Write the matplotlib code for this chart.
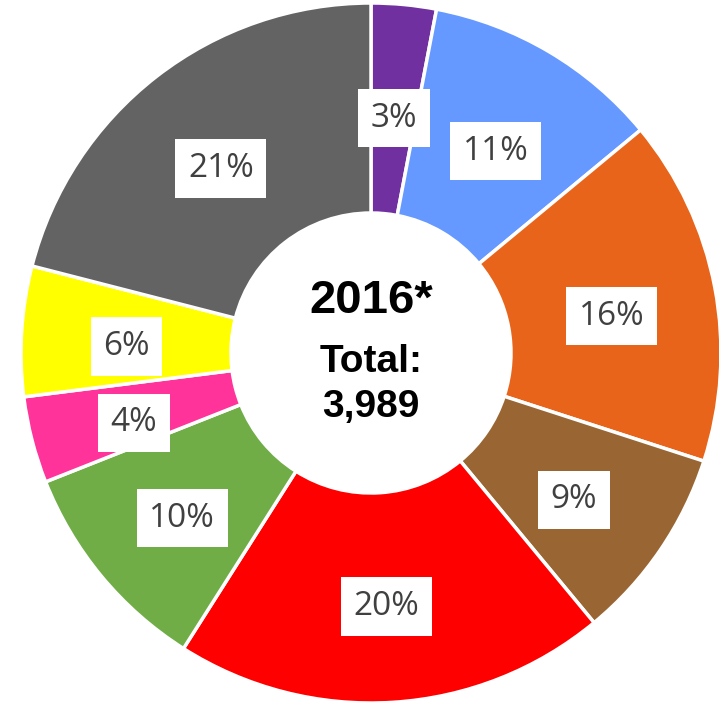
import matplotlib.pyplot as plt

# share of total, clockwise from 12 o'clock
pct = [3, 11, 16, 9, 20, 10, 4, 6, 21]
colors = ['#7030A0', '#6699FF', '#E8641A', '#996633', '#FF0000',
          '#70AD47', '#FF3399', '#FFFF00', '#636363']
year = '2016*'
total = 3989

fig = plt.figure(figsize=(7.19, 7.07), dpi=100)
ax = fig.add_axes([0, 0, 1, 1])

cx, cy, r = 371, 354, 350
wedges, texts = ax.pie(
    pct, colors=colors, startangle=90, counterclock=False,
    center=(cx, cy), radius=r, frame=True,
    labels=[f'{p}%' for p in pct], labeldistance=0.70,
    wedgeprops=dict(width=r * 0.6, edgecolor='white', linewidth=2.5),
    textprops=dict(fontsize=24, color='#404040', family='Open Sans',
                   ha='center', va='center'),
)
for t in texts:
    x, y = t.get_position()
    t.set_position((x, y - 9))
    t.set_bbox(dict(facecolor='white', edgecolor='none', boxstyle='square,pad=0.38'))
ax.set_xlim(0, 719)
ax.set_ylim(0, 707)
ax.set_aspect('equal')
ax.axis('off')

ax.text(cx, cy + 52, year, ha='center', va='center', fontsize=34,
        fontweight='bold', family='Liberation Sans')
ax.text(cx, cy - 9, 'Total:', ha='center', va='center', fontsize=28,
        fontweight='bold', family='Liberation Sans')
ax.text(cx, cy - 54, f'{total:,}', ha='center', va='center', fontsize=28,
        fontweight='bold', family='Liberation Sans')

fig.savefig('out.png', dpi=100)
